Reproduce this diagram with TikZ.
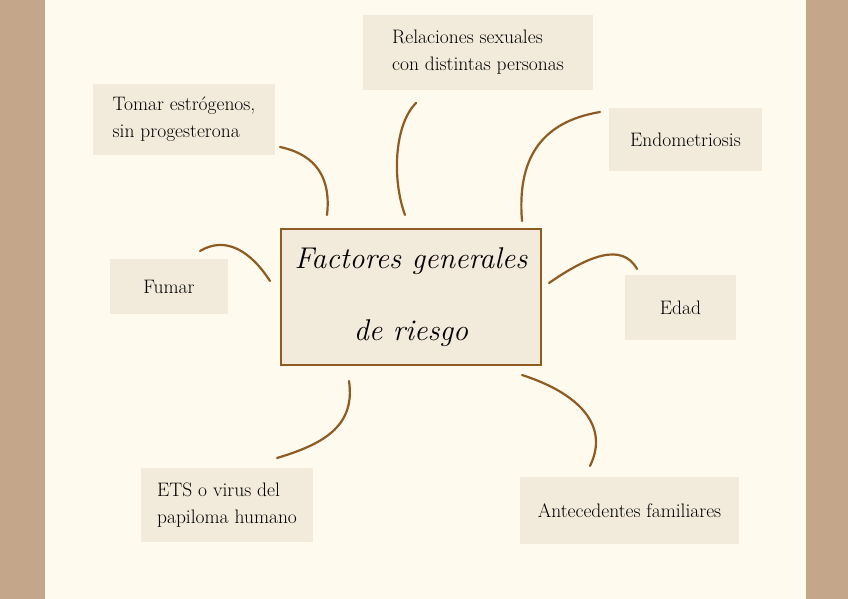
\documentclass[tikz,border=0pt]{standalone}
\usepackage{xcolor}
\usepackage{tikz}
\definecolor{sidebrown}{HTML}{C4A68B}
\definecolor{paper}{HTML}{FEFAEE}
\definecolor{boxfill}{HTML}{F2EADA}
\definecolor{linebrown}{HTML}{8E5B22}
\begin{document}
\begin{tikzpicture}[x=1pt, y=-1pt,
  factor/.style={fill=boxfill, inner sep=0pt, align=left, font=\fontsize{19.5}{27}\selectfont},
  link/.style={draw=linebrown, line width=2.2pt, line cap=round}]
\fill[sidebrown] (0,0) rectangle (848,599);
\fill[paper] (45,0) rectangle (806,599);
\node[draw=linebrown, line width=2pt, fill=boxfill, minimum width=260pt, minimum height=136pt,
  align=center, font=\fontsize{30}{72}\selectfont\itshape] (main) at (411,297) {Factores generales\\de riesgo};
\node[factor, minimum width=230pt, minimum height=75pt] (rel) at (478,52.5) {Relaciones sexuales\\con distintas personas};
\node[factor, minimum width=182pt, minimum height=71pt] (tomar) at (184,119.5) {Tomar estrógenos,\\sin progesterona};
\node[factor, minimum width=153pt, minimum height=63pt] (endo) at (685.5,139.5) {Endometriosis};
\node[factor, minimum width=118pt, minimum height=55pt] (fumar) at (169,286.5) {Fumar};
\node[factor, minimum width=111pt, minimum height=65pt] (edad) at (680.5,307.5) {Edad};
\node[factor, minimum width=172pt, minimum height=74pt] (ets) at (227,505) {ETS o virus del\\papiloma humano};
\node[factor, minimum width=219pt, minimum height=67pt] (ante) at (629.5,510.5) {Antecedentes familiares};
% curved links, loose ends
\coordinate (tomar-e) at (280,147);  \coordinate (tomar-m) at (327,215);
\coordinate (rel-e) at (416,103);    \coordinate (rel-m) at (405,215);
\coordinate (endo-e) at (600,112);   \coordinate (endo-m) at (522,221);
\coordinate (fumar-e) at (200,251);  \coordinate (fumar-m) at (270,281);
\coordinate (edad-e) at (637,269);   \coordinate (edad-m) at (549,283);
\coordinate (ets-e) at (277,458);    \coordinate (ets-m) at (349,381);
\coordinate (ante-e) at (590,466);   \coordinate (ante-m) at (522,375);
\draw[link] (tomar-e) .. controls (318,155) and (331,180) .. (tomar-m);
\draw[link] (rel-e) .. controls (394,125) and (392,180) .. (rel-m);
\draw[link] (endo-e) .. controls (540,122) and (517,160) .. (endo-m);
\draw[link] (fumar-e) .. controls (225,236) and (250,250) .. (fumar-m);
\draw[link] (edad-m) .. controls (588,256) and (622,242) .. (edad-e);
\draw[link] (ets-m) .. controls (356,428) and (320,445) .. (ets-e);
\draw[link] (ante-m) .. controls (578,393) and (610,425) .. (ante-e);
\end{tikzpicture}
\end{document}
